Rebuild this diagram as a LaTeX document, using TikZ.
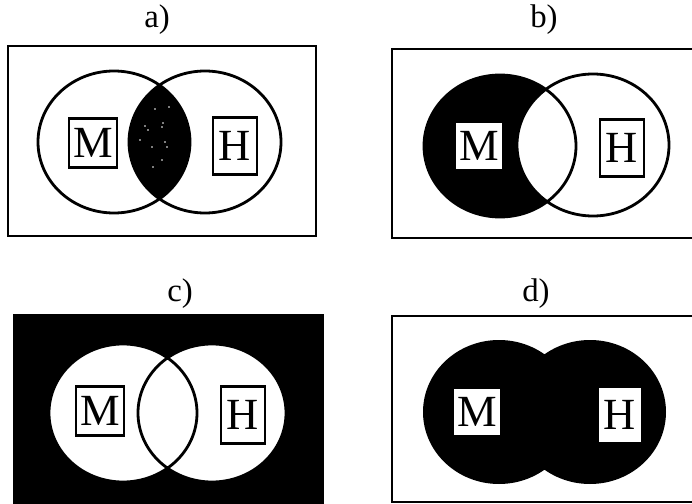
\documentclass[tikz,border=0pt]{standalone}
\usepackage{fontspec}
\setmainfont{Liberation Serif}
\begin{document}
\begin{tikzpicture}[x=0.03cm, y=-0.03cm,
    outerbox/.style={line width=2.5pt},
    vennline/.style={line width=2.4pt},
    oval/.style={x radius=76, y radius=71},
    letterbox/.style={draw, line width=2pt, fill=white, inner sep=0pt,
        font=\fontsize{38}{38}\selectfont},
    boxM/.style={letterbox, minimum width=1.44cm, minimum height=1.47cm},
    boxH/.style={letterbox, minimum width=1.32cm, minimum height=1.71cm},
    panellabel/.style={font=\fontsize{28}{30}\selectfont}]
    \useasboundingbox (0,0) rectangle (692,504);

    % a) intersection
    \begin{scope}[shift={(8,46)}]
        \node[panellabel] (ta) at (149,-26) {a)};
        \coordinate (aL) at (106,96);
        \coordinate (aR) at (197,96);
        \draw[outerbox] (0,0) rectangle (308,190);
        \begin{scope}
            \clip (aL) ellipse [oval];
            \fill (aR) ellipse [oval];
        \end{scope}
        % speckles in the lens
        \foreach \p in {(147,63),(161,61),(137,80),(154,81),(155,77),(132,94),
                        (144,101),(157,96),(159,101),(154,114),(145,121),(140,84)}
            \fill[white] \p circle (0.8);
        \draw[vennline] (aL) ellipse [oval] (aR) ellipse [oval];
        \node[boxM] (aM) at (85,97) {M};
        \node[boxH] (aH) at (227,100) {H};
    \end{scope}

    % b) difference
    \begin{scope}[shift={(392,49)}]
        \node[panellabel] (tb) at (152,-29) {b)};
        \coordinate (bL) at (108,97);
        \coordinate (bR) at (201,96);
        \draw[outerbox] (0,0) rectangle (320,189);
        \fill (bL) ellipse [oval];
        \begin{scope}
            \clip (bL) ellipse [oval];
            \fill[white] (bR) ellipse [oval];
        \end{scope}
        \draw[vennline] (bL) ellipse [oval] (bR) ellipse [oval];
        \node[boxM] (bM) at (87,97) {M};
        \node[boxH] (bH) at (230,99) {H};
    \end{scope}

    % c) complement of the union
    \begin{scope}[shift={(13,314)}]
        \node[panellabel] (tc) at (167,-20) {c)};
        \coordinate (cL) at (110,99);
        \coordinate (cR) at (199,99);
        \fill (0,0) rectangle (311,200);
        \fill[white] (cL) ellipse [x radius=74, y radius=69]
                     (cR) ellipse [x radius=74, y radius=69];
        \draw[vennline] (cL) ellipse [x radius=74, y radius=69]
                        (cR) ellipse [x radius=74, y radius=69];
        \node[boxM] (cM) at (87,97) {M};
        \node[boxH] (cH) at (230,101) {H};
    \end{scope}

    % d) union
    \begin{scope}[shift={(392,316)}]
        \node[panellabel] (td) at (144,-22) {d)};
        \coordinate (dL) at (107,96);
        \coordinate (dR) at (198,96);
        \draw[outerbox] (0,0) rectangle (320,186);
        \fill (dL) ellipse [x radius=76, y radius=72]
              (dR) ellipse [x radius=76, y radius=72];
        \node[boxM] (dM) at (85,96) {M};
        \node[boxH] (dH) at (228,99) {H};
    \end{scope}
\end{tikzpicture}
\end{document}
